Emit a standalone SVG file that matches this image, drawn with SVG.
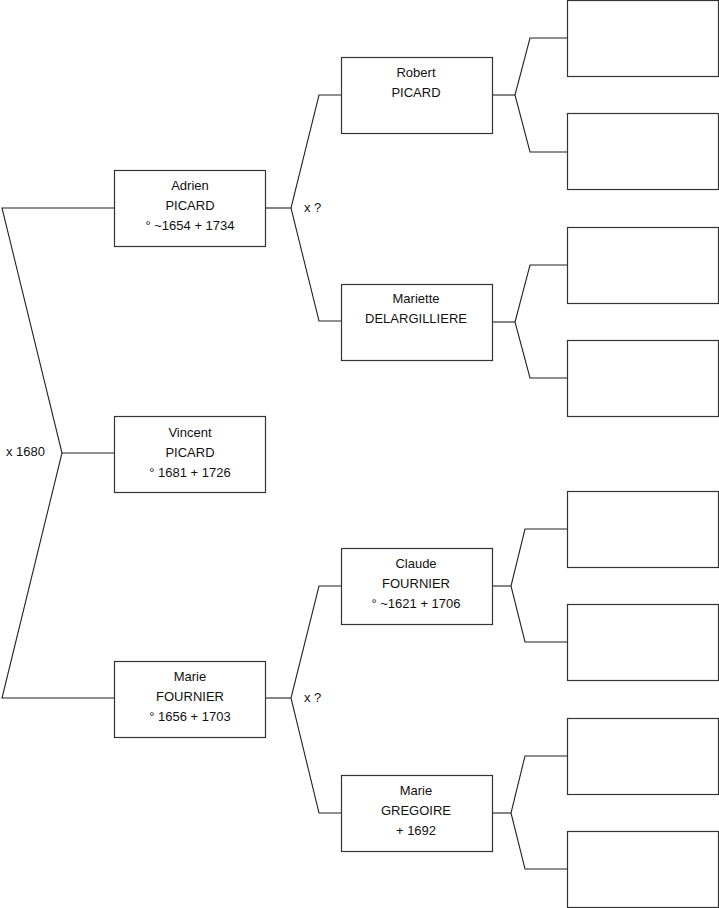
<svg xmlns="http://www.w3.org/2000/svg" width="719" height="908" viewBox="0 0 719 908">
<style>
.b{fill:#fff;stroke:#333;stroke-width:1.2}
.c{fill:none;stroke:#222;stroke-width:1.1}
text{font-family:"Liberation Sans",Arial,sans-serif;font-size:13px;fill:#111}
.m{text-anchor:middle}
</style>
<rect width="719" height="908" fill="#fff"/>
<g id="connectors">
<polyline class="c" points="114,208 2,208 62,453 2,698 114,698"/>
<line class="c" x1="62" y1="453" x2="114" y2="453"/>
<polyline class="c" points="341,95 319,95 291,208 319,321 341,321"/>
<line class="c" x1="265" y1="208" x2="291" y2="208"/>
<polyline class="c" points="341,586 319,586 291,698 319,813 341,813"/>
<line class="c" x1="265" y1="698" x2="291" y2="698"/>
<polyline class="c" points="567,38 530,38 515,95 530,152 567,152"/>
<line class="c" x1="492" y1="95" x2="515" y2="95"/>
<polyline class="c" points="567,265 530,265 515,322 530,378 567,378"/>
<line class="c" x1="492" y1="322" x2="515" y2="322"/>
<polyline class="c" points="567,529 525,529 511,586 525,642 567,642"/>
<line class="c" x1="492" y1="586" x2="511" y2="586"/>
<polyline class="c" points="567,756 525,756 511,813 525,869 567,869"/>
<line class="c" x1="492" y1="813" x2="511" y2="813"/>
<text x="6" y="456">x 1680</text>
<text x="304" y="212">x ?</text>
<text x="304" y="702">x ?</text>
</g>
<g id="adrien"><rect class="b" x="114.5" y="170.5" width="151" height="76"/>
<text class="m" x="190" y="190">Adrien</text><text class="m" x="190" y="210">PICARD</text><text class="m" x="190" y="230">° ~1654 + 1734</text></g>
<g id="vincent"><rect class="b" x="114.5" y="416.5" width="151" height="76"/>
<text class="m" x="190" y="437">Vincent</text><text class="m" x="190" y="457">PICARD</text><text class="m" x="190" y="477">° 1681 + 1726</text></g>
<g id="marie-fournier"><rect class="b" x="114.5" y="661.5" width="151" height="76"/>
<text class="m" x="190" y="681">Marie</text><text class="m" x="190" y="701">FOURNIER</text><text class="m" x="190" y="721">° 1656 + 1703</text></g>
<g id="robert"><rect class="b" x="341.5" y="57.5" width="151" height="76"/>
<text class="m" x="416" y="77">Robert</text><text class="m" x="416" y="97">PICARD</text></g>
<g id="mariette"><rect class="b" x="341.5" y="284.5" width="151" height="76"/>
<text class="m" x="416" y="303">Mariette</text><text class="m" x="416" y="323">DELARGILLIERE</text></g>
<g id="claude"><rect class="b" x="341.5" y="548.5" width="151" height="76"/>
<text class="m" x="416" y="568">Claude</text><text class="m" x="416" y="588">FOURNIER</text><text class="m" x="416" y="608">° ~1621 + 1706</text></g>
<g id="marie-gregoire"><rect class="b" x="341.5" y="775.5" width="151" height="76"/>
<text class="m" x="416" y="795">Marie</text><text class="m" x="416" y="815">GREGOIRE</text><text class="m" x="416" y="835">+ 1692</text></g>
<g id="g3-1"><rect class="b" x="567.5" y="0.5" width="151" height="76"/></g>
<g id="g3-2"><rect class="b" x="567.5" y="113.5" width="151" height="76"/></g>
<g id="g3-3"><rect class="b" x="567.5" y="227.5" width="151" height="76"/></g>
<g id="g3-4"><rect class="b" x="567.5" y="340.5" width="151" height="76"/></g>
<g id="g3-5"><rect class="b" x="567.5" y="491.5" width="151" height="76"/></g>
<g id="g3-6"><rect class="b" x="567.5" y="604.5" width="151" height="76"/></g>
<g id="g3-7"><rect class="b" x="567.5" y="718.5" width="151" height="76"/></g>
<g id="g3-8"><rect class="b" x="567.5" y="831.5" width="151" height="76"/></g>
</svg>
